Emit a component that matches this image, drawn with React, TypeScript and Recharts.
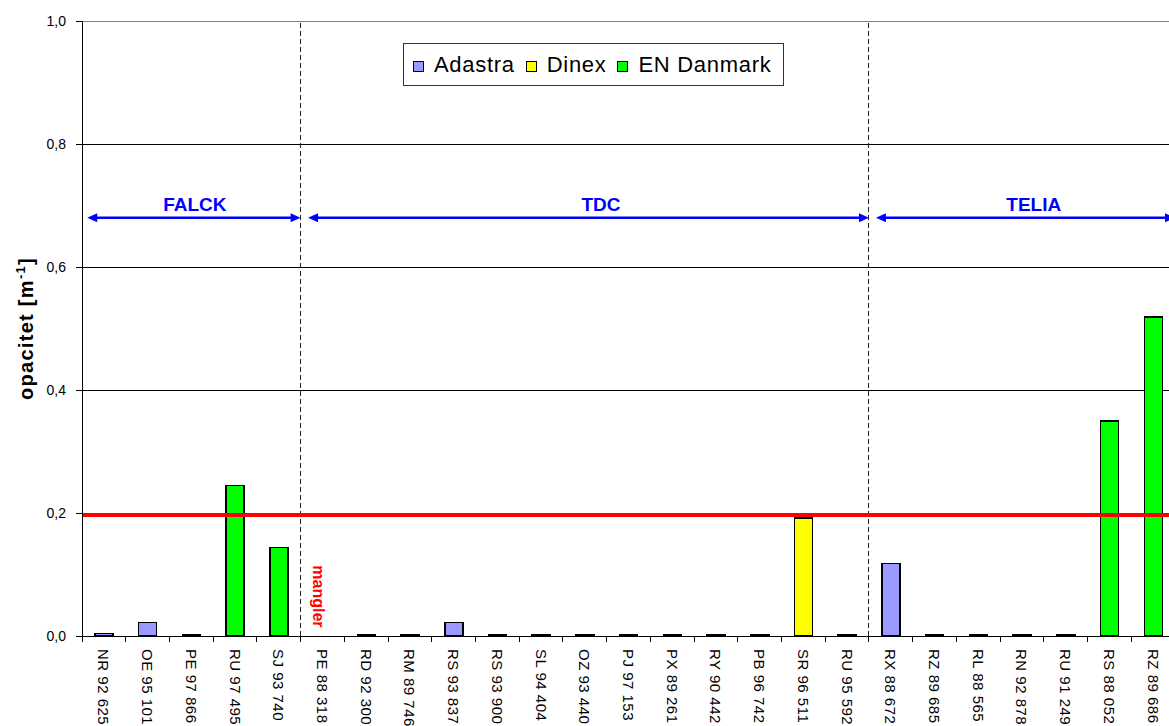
import React from 'react';
import {
  BarChart,
  Bar,
  XAxis,
  YAxis,
  CartesianGrid,
  ReferenceLine,
  ReferenceDot,
  Legend,
} from 'recharts';

// ---------- data ----------
const categories = [
  'NR 92 625', 'OE 95 101', 'PE 97 866', 'RU 97 495', 'SJ 93 740',
  'PE 88 318', 'RD 92 300', 'RM 89 746', 'RS 93 837', 'RS 93 900',
  'SL 94 404', 'OZ 93 440', 'PJ 97 153', 'PX 89 261', 'RY 90 442',
  'PB 96 742', 'SR 96 511', 'RU 95 592', 'RX 88 672', 'RZ 89 685',
  'RL 88 565', 'RN 92 878', 'RU 91 249', 'RS 88 052', 'RZ 89 686',
];
const adastra: (number | null)[] = [
  0.004, 0.022, 0.002, null, null,
  null, 0.002, 0.002, 0.022, 0.002,
  0.002, 0.002, 0.002, 0.002, 0.002,
  0.002, null, 0.002, 0.118, 0.002,
  0.002, 0.002, 0.002, null, null,
];
const dinex: (number | null)[] = [
  null, null, null, null, null,
  null, null, null, null, null,
  null, null, null, null, null,
  null, 0.192, null, null, null,
  null, null, null, null, null,
];
const enDanmark: (number | null)[] = [
  null, null, null, 0.245, 0.144,
  null, null, null, null, null,
  null, null, null, null, null,
  null, null, null, null, null,
  null, null, null, 0.35, 0.519,
];
const seriesNames = ['Adastra', 'Dinex', 'EN Danmark'];
const seriesColors = ['#9999FF', '#FFFF00', '#00FF00'];
const yTicks = [0, 0.2, 0.4, 0.6, 0.8, 1.0];
const limitValue = 0.197;
// groups along the x axis, in category-band units
const groupNames = ['FALCK', 'TDC', 'TELIA'];
const groupStart = [0.12, 5.17, 18.16];
const groupEnd = [5, 18, 25];
const groupLabelX = [2.58, 11.87, 21.77];
const groupArrowY = 0.68;
const dividerCategories = ['PE 88 318', 'RX 88 672'];
const missingCategory = 'PE 88 318';
const missingText = 'mangler';
const missingY = 0.115;

const data = categories.map((name, i) => ({
  name,
  Adastra: adastra[i],
  Dinex: dinex[i],
  'EN Danmark': enDanmark[i],
}));

// ---------- layout ----------
const CHART_W = 1180;
const CHART_H = 760;
const MARGIN = { top: 21, right: 5, bottom: 0, left: 0 };
const Y_AXIS_W = 82;
const PLOT_H = 615;
const X_AXIS_H = CHART_H - MARGIN.top - PLOT_H - MARGIN.bottom;
const TICK_SIZE = 6;
const TICK_MARGIN = 7;
const FONT = '"Liberation Sans", Arial, Helvetica, sans-serif';
const BLUE = '#0000FF';

const XTick = (props: any) => {
  const { x, y, payload } = props;
  const half = payload && typeof payload.offset === 'number' && payload.offset > 0
    ? payload.offset
    : (CHART_W - Y_AXIS_W - MARGIN.right) / categories.length / 2;
  const axisY = y - TICK_SIZE - TICK_MARGIN;
  return (
    <g>
      <line
        x1={x - half}
        y1={axisY}
        x2={x - half}
        y2={axisY + TICK_SIZE}
        stroke="#000"
        strokeWidth={1}
        shapeRendering="crispEdges"
      />
      <text
        x={x}
        y={y}
        transform={`rotate(90, ${x}, ${y})`}
        textAnchor="start"
        dominantBaseline="central"
        fontSize={15}
        letterSpacing={0.5}
        fontFamily={FONT}
        fill="#000"
      >
        {payload.value}
      </text>
    </g>
  );
};

const YLabel = (props: any) => {
  const vb = props.viewBox;
  const cy = vb && typeof vb.y === 'number' ? vb.y + vb.height / 2 : 328.5;
  const cx = 33;
  return (
    <text
      x={cx}
      y={cy}
      transform={`rotate(-90, ${cx}, ${cy})`}
      textAnchor="middle"
      fontSize={20}
      fontWeight="bold"
      letterSpacing={1.3}
      fontFamily={FONT}
      fill="#000"
    >
      opacitet [m
      <tspan dy={-8} fontSize={13}>-1</tspan>
      <tspan dy={8}>]</tspan>
    </text>
  );
};

// Draws the group arrows using the full-width reference line's endpoints
const GroupArrows = (props: any) => {
  const { x1, x2, y1 } = props;
  const y = y1;
  const band = (x2 - x1) / categories.length;
  const h = 10;
  const w = 4.5;
  return (
    <g shapeRendering="auto">
      {groupNames.map((g, i) => {
        const a = x1 + band * groupStart[i];
        const b = x1 + band * groupEnd[i];
        const lx = x1 + band * groupLabelX[i];
        return (
          <g key={g}>
            <line x1={a + h - 1} y1={y} x2={b - h + 1} y2={y} stroke={BLUE} strokeWidth={2.5} />
            <polygon points={`${a},${y} ${a + h},${y - w} ${a + h},${y + w}`} fill={BLUE} />
            <polygon points={`${b},${y} ${b - h},${y - w} ${b - h},${y + w}`} fill={BLUE} />
            <text
              x={lx}
              y={y - 7}
              textAnchor="middle"
              fontSize={19}
              fontWeight="bold"
              fontFamily={FONT}
              fill={BLUE}
            >
              {g}
            </text>
          </g>
        );
      })}
    </g>
  );
};

const LegendBox = () => (
  <div
    style={{
      boxSizing: 'border-box',
      width: 381,
      height: 43,
      border: '1px solid #333',
      background: '#fff',
      display: 'flex',
      alignItems: 'center',
      paddingLeft: 9,
      fontFamily: FONT,
      fontSize: 22,
      letterSpacing: 0.7,
      color: '#000',
      whiteSpace: 'nowrap',
    }}
  >
    {seriesNames.map((n, i) => (
      <div key={n} style={{ display: 'flex', alignItems: 'center', marginRight: 11 }}>
        <span
          style={{
            display: 'inline-block',
            width: 11,
            height: 11,
            boxSizing: 'border-box',
            border: '1px solid #000',
            background: seriesColors[i],
            marginRight: 10,
            marginTop: 3,
          }}
        />
        <span>{n}</span>
      </div>
    ))}
  </div>
);

export default function App() {
  return (
    <div
      style={{
        position: 'fixed',
        left: 0,
        top: 0,
        width: 1169,
        height: 726,
        overflow: 'hidden',
        background: '#fff',
        fontFamily: FONT,
        shapeRendering: 'crispEdges',
      }}
    >
      <BarChart width={CHART_W} height={CHART_H} data={data} margin={MARGIN} barSize={18}>
        <CartesianGrid vertical={false} stroke="#000" strokeWidth={1} />
        <XAxis
          dataKey="name"
          interval={0}
          height={X_AXIS_H}
          tickLine={false}
          tickSize={TICK_SIZE}
          tickMargin={TICK_MARGIN}
          tick={<XTick />}
          axisLine={{ stroke: '#000' }}
        />
        <YAxis
          width={Y_AXIS_W}
          domain={[0, 1]}
          ticks={yTicks}
          allowDataOverflow
          tickSize={6}
          tickMargin={10}
          tickFormatter={(v: number) => v.toFixed(1).replace('.', ',')}
          tick={{ fontSize: 14, fill: '#000', fontFamily: FONT }}
          tickLine={{ stroke: '#000' }}
          axisLine={{ stroke: '#000' }}
          label={{ content: (p: any) => <YLabel {...p} /> }}
        />
        <Legend
          layout="horizontal"
          verticalAlign="middle"
          align="center"
          wrapperStyle={{ position: 'absolute', left: 403, top: 43, width: 381, height: 43 }}
          content={() => <LegendBox />}
        />
        {seriesNames.map((n, i) => (
          <Bar
            key={n}
            dataKey={n}
            stackId="s"
            fill={seriesColors[i]}
            stroke="#000"
            strokeWidth={1.5}
            isAnimationActive={false}
          />
        ))}
        <ReferenceLine y={1} stroke="#808080" strokeWidth={1} />
        {dividerCategories.map((c) => (
          <ReferenceLine
            key={`d${c}`}
            x={c}
            position="start"
            stroke="#222"
            strokeWidth={1}
            strokeDasharray="5 3"
          />
        ))}
        <ReferenceLine y={limitValue} stroke="#FF0000" strokeWidth={4} />
        <ReferenceLine y={groupArrowY} stroke="none" shape={(p: any) => <GroupArrows {...p} />} />
        <ReferenceDot
          x={missingCategory}
          y={missingY}
          shape={(p: any) => (
            <text
              x={p.cx - 4}
              y={p.cy}
              transform={`rotate(90, ${p.cx - 4}, ${p.cy})`}
              textAnchor="start"
              dominantBaseline="central"
              fontSize={16}
              fontWeight="bold"
              fontFamily={FONT}
              fill="#FF0000"
            >
              {missingText}
            </text>
          )}
        />
      </BarChart>
    </div>
  );
}
